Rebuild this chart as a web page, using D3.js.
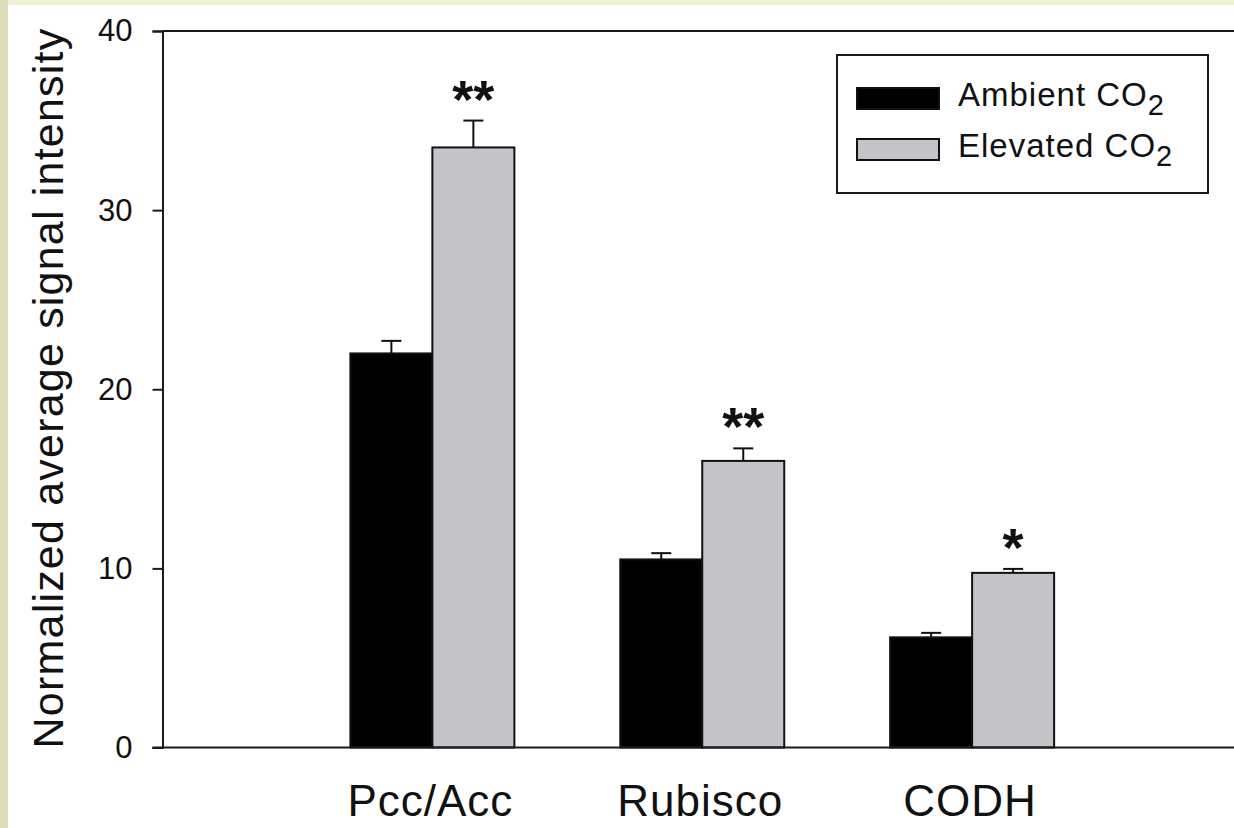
<!DOCTYPE html>
<html>
<head>
<meta charset="utf-8">
<script src="https://cdn.jsdelivr.net/npm/d3@7/dist/d3.min.js"></script>
<style>
  html, body { margin: 0; padding: 0; background: #dcdcb8; }
  svg { display: block; }
  text { font-family: "Liberation Sans", Arial, sans-serif; fill: #111; }
</style>
</head>
<body>
<svg id="chart" width="1234" height="828"></svg>
<script>
// Protein signal intensity under ambient vs elevated CO2
const categories = ["Pcc/Acc", "Rubisco", "CODH"];
const seriesNames = ["Ambient", "Elevated"];
const ambient = [22.0, 10.5, 6.15];
const ambientErr = [0.7, 0.35, 0.25];
const elevated = [33.5, 16.0, 9.75];
const elevatedErr = [1.5, 0.7, 0.22];
const significance = ["**", "**", "*"];
const yTicks = [0, 10, 20, 30, 40];
const yTitle = "Normalized average signal intensity";

const fills = { Ambient: "#000000", Elevated: "#c5c3c7" };

const svg = d3.select("#chart");

// page frame: tinted border strips around the white plotting page
svg.append("rect").attr("x", 0).attr("y", 0).attr("width", 1234).attr("height", 828).attr("fill", "#dcdcb8");
svg.append("rect").attr("x", 8).attr("y", 0).attr("width", 1226).attr("height", 5).attr("fill", "#f2f2d2");
svg.append("rect").attr("x", 8).attr("y", 5).attr("width", 1226).attr("height", 823).attr("fill", "#ffffff");

const plotLeft = 162.5, plotRight = 1242, plotTop = 31, plotBottom = 747.5;

const y = d3.scaleLinear().domain([0, 40]).range([plotBottom, plotTop]);
const x = d3.scalePoint().domain(categories).range([plotLeft, plotRight]).padding(1);
const xs = d3.scaleBand().domain(seriesNames).range([-82, 82]).padding(0);

const rows = categories.map((c, i) => ({
  cat: c,
  sig: significance[i],
  values: [
    { s: "Ambient", v: ambient[i], e: ambientErr[i] },
    { s: "Elevated", v: elevated[i], e: elevatedErr[i] }
  ]
}));

// frame line along the top of the value range
svg.append("line").attr("x1", plotLeft).attr("x2", 1234).attr("y1", y(40)).attr("y2", y(40))
  .attr("stroke", "#1a1a1a").attr("stroke-width", 2);

// bars
const g = svg.append("g");
const groups = g.selectAll("g.grp").data(rows).join("g")
  .attr("class", "grp")
  .attr("transform", d => `translate(${x(d.cat)},0)`);

groups.selectAll("rect").data(d => d.values).join("rect")
  .attr("x", d => xs(d.s))
  .attr("width", xs.bandwidth())
  .attr("y", d => y(d.v))
  .attr("height", d => y(0) - y(d.v))
  .attr("fill", d => fills[d.s])
  .attr("stroke", "#111")
  .attr("stroke-width", 2);

// error bars (upper half only)
groups.selectAll("g.err").data(d => d.values).join("g")
  .attr("class", "err")
  .each(function (d) {
    const cx = xs(d.s) + xs.bandwidth() / 2;
    const el = d3.select(this);
    el.append("line").attr("x1", cx).attr("x2", cx)
      .attr("y1", y(d.v)).attr("y2", y(d.v + d.e))
      .attr("stroke", "#111").attr("stroke-width", 2);
    el.append("line").attr("x1", cx - 10).attr("x2", cx + 10)
      .attr("y1", y(d.v + d.e)).attr("y2", y(d.v + d.e))
      .attr("stroke", "#111").attr("stroke-width", 2);
  });

// significance markers above the elevated bars
groups.append("text")
  .attr("x", xs("Elevated") + xs.bandwidth() / 2)
  .attr("y", d => y(d.values[1].v + d.values[1].e) - 3)
  .attr("text-anchor", "middle")
  .attr("font-size", 54)
  .attr("font-weight", "bold")
  .text(d => d.sig);

// y axis
const yAxis = d3.axisLeft(y).tickValues(yTicks).tickSize(10).tickPadding(20).tickFormat(d3.format("d"));
const ya = svg.append("g").attr("transform", `translate(${plotLeft},0)`).call(yAxis);
ya.select(".domain").attr("stroke", "#1a1a1a").attr("stroke-width", 2);
ya.selectAll(".tick line").attr("stroke", "#1a1a1a").attr("stroke-width", 2);
ya.selectAll(".tick text").attr("font-size", 31).attr("font-family", "Liberation Sans, Arial, sans-serif").attr("fill", "#222");

// x axis baseline and category labels
svg.append("line").attr("x1", plotLeft - 10).attr("x2", 1234).attr("y1", y(0)).attr("y2", y(0))
  .attr("stroke", "#1a1a1a").attr("stroke-width", 2);
svg.selectAll("text.cat").data(categories).join("text")
  .attr("class", "cat")
  .attr("x", d => x(d) - 2)
  .attr("y", 816)
  .attr("text-anchor", "middle")
  .attr("font-size", 44)
  .attr("letter-spacing", 1)
  .text(d => d);

// y axis title
svg.append("text")
  .attr("transform", `translate(63,388) rotate(-90)`)
  .attr("text-anchor", "middle")
  .attr("font-size", 43)
  .attr("letter-spacing", 1.2)
  .text(yTitle);

// legend
const lg = svg.append("g");
lg.append("rect").attr("x", 837).attr("y", 55).attr("width", 371).attr("height", 138)
  .attr("fill", "#fff").attr("stroke", "#1a1a1a").attr("stroke-width", 2);
const legendItems = [
  { s: "Ambient", label: "Ambient CO", y: 88 },
  { s: "Elevated", label: "Elevated CO", y: 139 }
];
legendItems.forEach(it => {
  lg.append("rect").attr("x", 857).attr("y", it.y).attr("width", 82).attr("height", 21)
    .attr("fill", fills[it.s]).attr("stroke", "#111").attr("stroke-width", 2);
  const t = lg.append("text").attr("x", 958).attr("y", it.y + 18).attr("font-size", 33)
    .attr("letter-spacing", 1);
  t.append("tspan").text(it.label);
  t.append("tspan").attr("font-size", 29).attr("dy", 9).text("2");
});
</script>
</body>
</html>
